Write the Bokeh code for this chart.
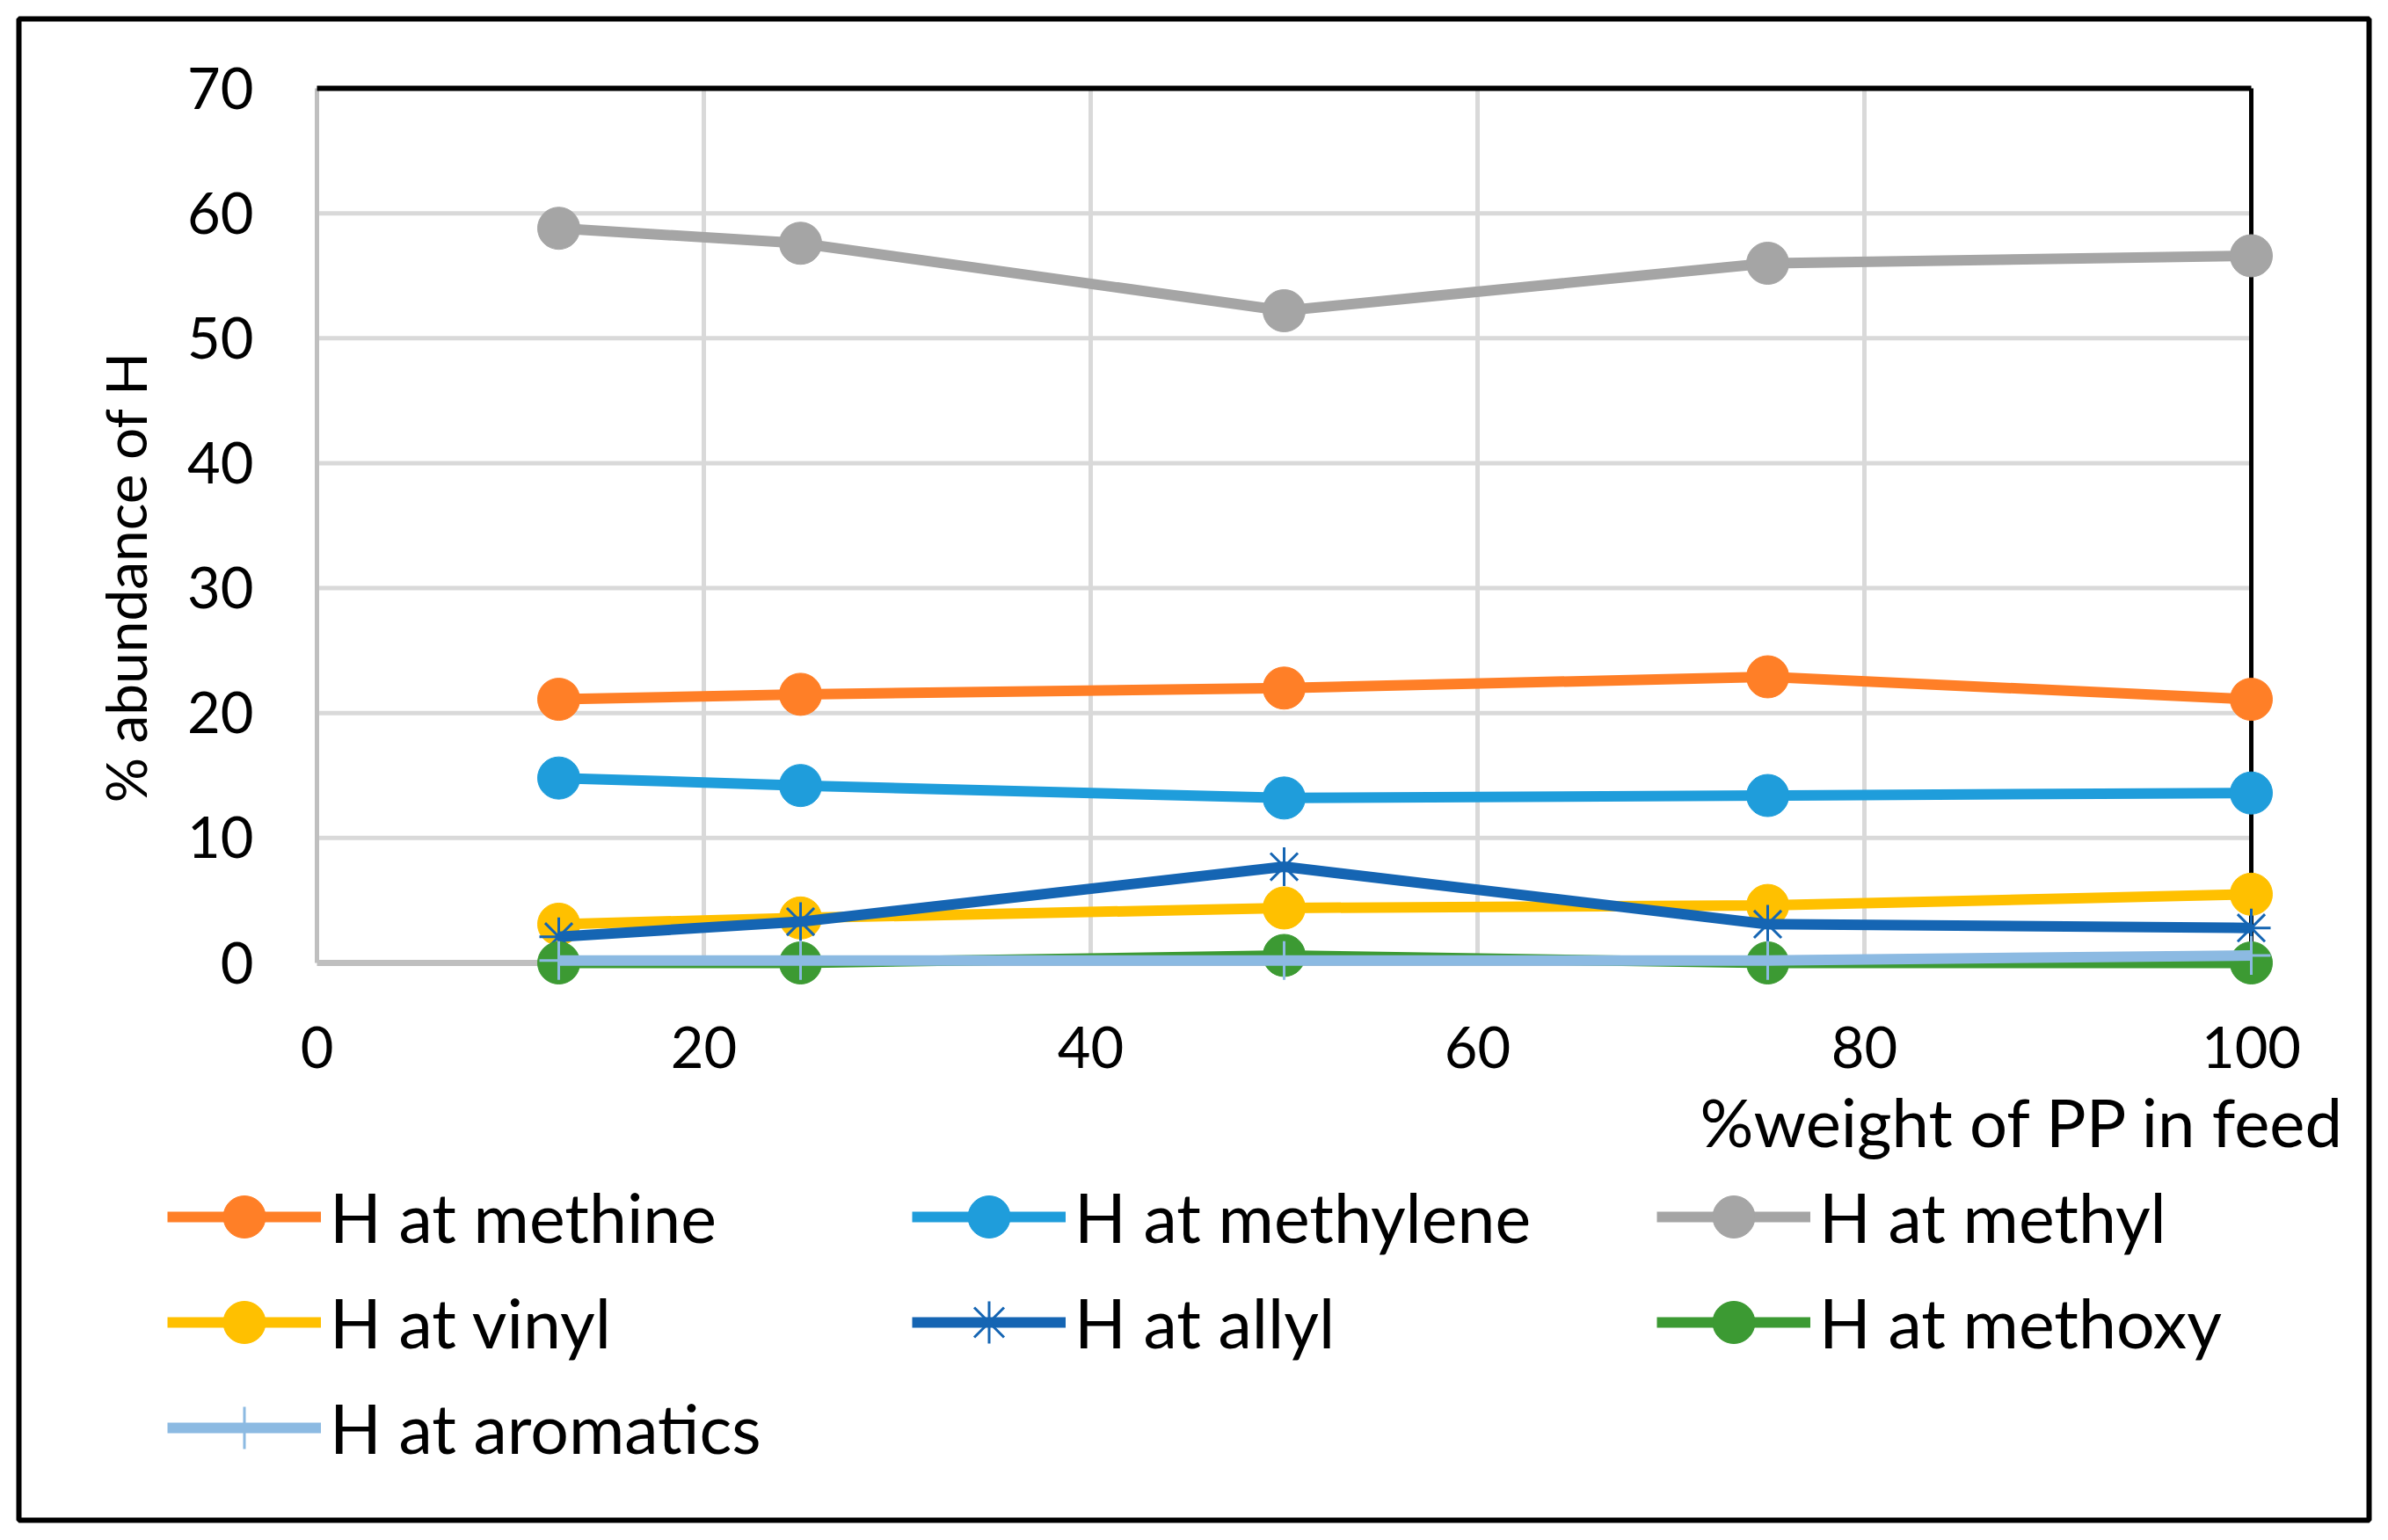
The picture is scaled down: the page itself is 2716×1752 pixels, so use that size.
import math
from bokeh.plotting import figure
from bokeh.models import Range1d, Legend, LegendItem
from bokeh.core.properties import value
from bokeh.embed import file_html
from bokeh.resources import INLINE

# ---- data ----
x_pp = [12.5, 25, 50, 75, 100]
methine = [21.1, 21.5, 22.0, 22.9, 21.1]
methylene = [14.8, 14.2, 13.2, 13.4, 13.6]
methyl = [58.8, 57.6, 52.2, 56.0, 56.6]
vinyl = [3.1, 3.6, 4.4, 4.6, 5.5]
allyl = [2.1, 3.3, 7.7, 3.1, 2.8]
methoxy = [0.0, 0.0, 0.6, 0.0, 0.0]
aromatics = [0.2, 0.2, 0.2, 0.2, 0.6]

series_names = ["H at methine", "H at methylene", "H at methyl", "H at vinyl",
                "H at allyl", "H at methoxy", "H at aromatics"]
series_values = [methine, methylene, methyl, vinyl, allyl, methoxy, aromatics]
series_colors = ["#FF7F27", "#1F9DDB", "#A5A5A5", "#FFC000", "#1565B3", "#3C9A33", "#8CBAE2"]
series_markers = ["circle", "circle", "circle", "circle", "asterisk", "circle", "cross"]

x_ticks = [0, 20, 40, 60, 80, 100]
y_ticks = [0, 10, 20, 30, 40, 50, 60, 70]
x_min, x_max = 0, 100
y_min, y_max = 0, 70

FONT = "Lato"

# ---- layout (pixels) ----
W, H = 2700, 1736
FL, FR, FT, FB = 360, 2560, 100, 1095   # plot-area edges in canvas px
SX = (FR - FL) / (x_max - x_min)
SY = (FB - FT) / (y_max - y_min)


def dx(px):
    return x_min + (px - FL) / SX


def dy(py):
    return y_min + (FB - py) / SY


p = figure(width=W, height=H, output_backend="svg", toolbar_location=None,
           x_range=Range1d(dx(0), dx(W)), y_range=Range1d(dy(H), dy(0)),
           x_axis_type=None, y_axis_type=None, min_border=0)
p.outline_line_color = None
p.background_fill_color = "white"
p.border_fill_color = "white"
p.grid.visible = False

# gridlines
gx = [t for t in x_ticks if x_min < t < x_max]
gy = [t for t in y_ticks if y_min < t < y_max]
p.segment(x0=gx, y0=[y_min] * len(gx), x1=gx, y1=[y_max] * len(gx),
          line_color="#D9D9D9", line_width=5)
p.segment(x0=[x_min] * len(gy), y0=gy, x1=[x_max] * len(gy), y1=gy,
          line_color="#D9D9D9", line_width=5)
# axis lines (grey) and top/right frame (black)
p.segment(x0=[x_min], y0=[y_min], x1=[x_min], y1=[y_max], line_color="#BFBFBF", line_width=5)
p.segment(x0=[x_min], y0=[y_min], x1=[x_max], y1=[y_min], line_color="#BFBFBF", line_width=7)
p.segment(x0=[x_min, x_max], y0=[y_max, y_min], x1=[x_max, x_max], y1=[y_max, y_max],
          line_color="black", line_width=[6, 5])

# tick labels
p.text(x=[dx(FL - 72)] * len(y_ticks), y=[t + 0.5 / SY for t in y_ticks],
       text=[str(t) for t in y_ticks], text_align="right", text_baseline="alphabetic",
       text_font=value(FONT), text_font_size="65px", text_color="black")
p.text(x=x_ticks, y=[dy(1191)] * len(x_ticks),
       text=[str(t) for t in x_ticks], text_align="center", text_baseline="alphabetic",
       text_font=value(FONT), text_font_size="65px", text_color="black")

# axis titles
p.text(x=[dx(142)], y=[dy(656)], text=["% abundance of H"], angle=math.pi / 2,
       text_align="center", text_baseline="middle",
       text_font=value(FONT), text_font_size="64px", text_color="black")
p.text(x=[dx(2667)], y=[dy(1275)], text=["%weight of PP in feed"],
       text_align="right", text_baseline="alphabetic",
       text_font=value(FONT), text_font_size="76px", text_color="black")

# outer border
p.quad(left=[dx(21)], right=[dx(2694)], top=[dy(21)], bottom=[dy(1729)],
       fill_color=None, line_color="black", line_width=6)

items = []
for name, vals, col, mk in zip(series_names, series_values, series_colors, series_markers):
    ln = p.line(x_pp, vals, line_color=col, line_width=12)
    if mk == "circle":
        sc = p.scatter(x_pp, vals, marker="circle", size=48, fill_color=col, line_color=col)
    elif mk == "asterisk":
        sc = p.scatter(x_pp, vals, marker="asterisk", size=44, line_color=col, line_width=3)
    else:
        sc = p.scatter(x_pp, vals, marker="cross", size=44, line_color=col, line_width=3)
    items.append(LegendItem(label=name, renderers=[ln, sc]))

legend = Legend(items=items, ncols=3, orientation="horizontal", location=(190, 52),
                glyph_width=175, glyph_height=120, label_height=120, label_width=662,
                label_standoff=10, spacing=0, padding=0, margin=0,
                border_line_color=None, background_fill_alpha=0,
                label_text_font=FONT, label_text_font_size="77px",
                label_text_color="black", label_text_baseline="middle")
p.add_layout(legend, "center")

open("out.html", "w").write(file_html(p, INLINE))
